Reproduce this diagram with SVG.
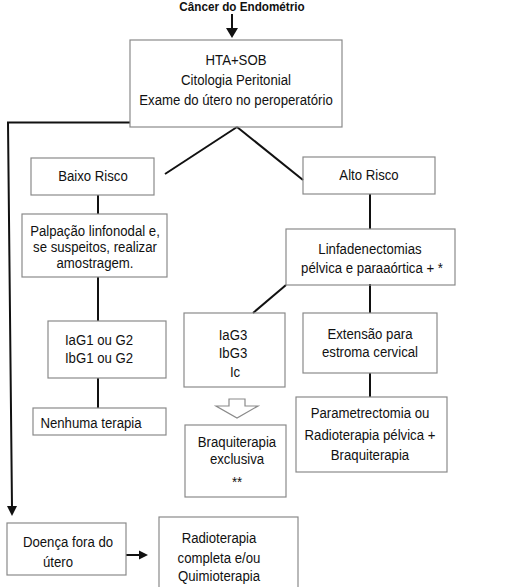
<svg xmlns="http://www.w3.org/2000/svg" width="523" height="587" viewBox="0 0 523 587">
<style>
.t{font-family:"Liberation Sans",Arial,sans-serif;font-size:15px;fill:#111;text-anchor:middle}
.ti{font-family:"Liberation Sans",Arial,sans-serif;font-size:13px;font-weight:bold;fill:#111;text-anchor:middle}
.box{fill:none;stroke:#8a8a8a;stroke-width:1.2}
.ln{fill:none;stroke:#111;stroke-width:2}
.ah{fill:#111}
</style>
<rect width="523" height="587" fill="#fff"/>
<g id="title">
<text class="ti" transform="translate(242,11) scale(.9,1)">Câncer do Endométrio</text>
</g>
<g id="connectors">
<path class="ln" d="M232,14 V30"/>
<polygon class="ah" points="226,28 238,28 232,38"/>
<path class="ln" d="M130,122.5 H8 L12,507"/>
<polygon class="ah" points="7,506 17,506 12,516"/>
<path class="ln" d="M237,127 L165,174"/>
<path class="ln" d="M237,127 L303,180"/>
<path class="ln" d="M98,195 V214"/>
<path class="ln" d="M98,277 V321"/>
<path class="ln" d="M98,378 V408"/>
<path class="ln" d="M370,194 V229"/>
<path class="ln" d="M286,285 L253,313"/>
<path class="ln" d="M370,284 V313"/>
<path class="ln" d="M370,373 V397"/>
<path class="ln" d="M126,555 H140"/>
<polygon class="ah" points="139,550.5 139,559.5 148,555"/>
<polygon class="box" points="229,399 245,399 245,406 258,406 237,418 216,406 229,406"/>
</g>
<g id="n-top">
<rect class="box" x="130" y="40" width="212" height="87"/>
<text class="t" transform="translate(236,65) scale(.88,1)">HTA+SOB</text>
<text class="t" transform="translate(236,85) scale(.88,1)">Citologia Peritonial</text>
<text class="t" transform="translate(236,105) scale(.88,1)">Exame do útero no peroperatório</text>
</g>
<g id="n-baixo">
<rect class="box" x="31" y="158" width="123" height="37"/>
<text class="t" transform="translate(93,181) scale(.88,1)">Baixo Risco</text>
</g>
<g id="n-alto">
<rect class="box" x="303" y="157" width="132" height="37"/>
<text class="t" transform="translate(369,180) scale(.88,1)">Alto Risco</text>
</g>
<g id="n-palpacao">
<rect class="box" x="22" y="214" width="145" height="63"/>
<text class="t" transform="translate(95,236) scale(.88,1)">Palpação linfonodal e,</text>
<text class="t" transform="translate(95,252) scale(.88,1)">se suspeitos, realizar</text>
<text class="t" transform="translate(95,268) scale(.88,1)">amostragem.</text>
</g>
<g id="n-linfa">
<rect class="box" x="286" y="229" width="169" height="56"/>
<text class="t" transform="translate(370,254) scale(.88,1)">Linfadenectomias</text>
<text class="t" transform="translate(372,273) scale(.88,1)">pélvica e paraaórtica + *</text>
</g>
<g id="n-iag1">
<rect class="box" x="48" y="321" width="118" height="57"/>
<text class="t" transform="translate(99,345) scale(.88,1)">IaG1 ou G2</text>
<text class="t" transform="translate(99,363) scale(.88,1)">IbG1 ou G2</text>
</g>
<g id="n-iag3">
<rect class="box" x="184" y="313" width="101" height="74"/>
<text class="t" transform="translate(233,340) scale(.88,1)">IaG3</text>
<text class="t" transform="translate(233,358) scale(.88,1)">IbG3</text>
<text class="t" transform="translate(235,377) scale(.88,1)">Ic</text>
</g>
<g id="n-extensao">
<rect class="box" x="303" y="313" width="134" height="60"/>
<text class="t" transform="translate(370,339) scale(.88,1)">Extensão para</text>
<text class="t" transform="translate(370,357) scale(.88,1)">estroma cervical</text>
</g>
<g id="n-nenhuma">
<rect class="box" x="33" y="408" width="133" height="27"/>
<text class="t" transform="translate(91,428) scale(.88,1)">Nenhuma terapia</text>
</g>
<g id="n-braqui">
<rect class="box" x="185" y="425" width="101" height="72"/>
<text class="t" transform="translate(237,447) scale(.88,1)">Braquiterapia</text>
<text class="t" transform="translate(237,464) scale(.88,1)">exclusiva</text>
<text class="t" transform="translate(237,487) scale(.88,1)">**</text>
</g>
<g id="n-param">
<rect class="box" x="296" y="397" width="151" height="75"/>
<text class="t" transform="translate(370,418) scale(.88,1)">Parametrectomia ou</text>
<text class="t" transform="translate(370,440) scale(.88,1)">Radioterapia pélvica +</text>
<text class="t" transform="translate(370,460) scale(.88,1)">Braquiterapia</text>
</g>
<g id="n-doenca">
<rect class="box" x="7" y="523" width="119" height="52"/>
<text class="t" transform="translate(68,547) scale(.88,1)">Doença fora do</text>
<text class="t" transform="translate(58,567) scale(.88,1)">útero</text>
</g>
<g id="n-radio">
<rect class="box" x="159" y="517" width="139" height="80"/>
<text class="t" transform="translate(219,543) scale(.88,1)">Radioterapia</text>
<text class="t" transform="translate(219,563) scale(.88,1)">completa e/ou</text>
<text class="t" transform="translate(219,581) scale(.88,1)">Quimioterapia</text>
</g>
</svg>
